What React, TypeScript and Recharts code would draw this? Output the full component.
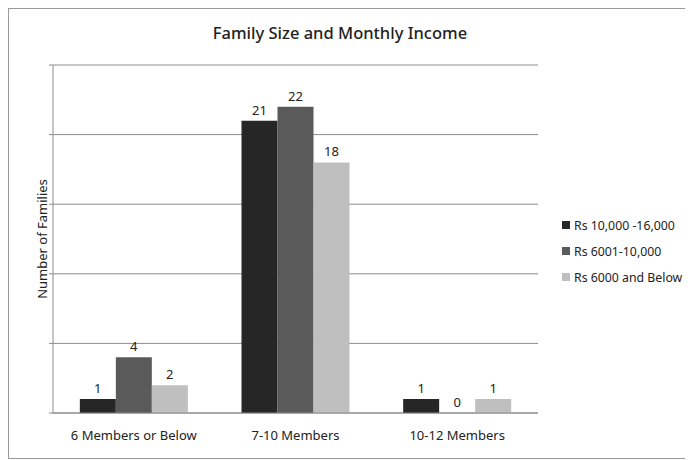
import { BarChart, Bar, XAxis, YAxis, CartesianGrid, Legend, LabelList } from 'recharts';

const categories = ['6 Members or Below', '7-10 Members', '10-12 Members'];
const high = [1, 21, 1];
const middle = [4, 22, 0];
const low = [2, 18, 1];
const yTicks = [0, 5, 10, 15, 20, 25];
const edgeTicks = [0, 1, 2, 3];

const SERIES = [
  { key: 'high', name: 'Rs 10,000 -16,000', color: '#262626' },
  { key: 'middle', name: 'Rs 6001-10,000', color: '#5a5a5a' },
  { key: 'low', name: 'Rs 6000 and Below', color: '#bfbfbf' },
];

const FONT = '"Noto Sans", "Open Sans", sans-serif';

const data = categories.map((c, i) => ({ category: c, high: high[i], middle: middle[i], low: low[i] }));

function YLabel({ viewBox }: { viewBox?: { x: number; y: number; width: number; height: number } }) {
  if (!viewBox) return null;
  const x = viewBox.x + 33;
  const y = viewBox.y + viewBox.height / 2;
  return (
    <text x={x} y={y} transform={`rotate(-90 ${x} ${y})`} textAnchor="middle" dominantBaseline="central"
      fontSize={13} fill="#222" fontFamily={FONT}>
      Number of Families
    </text>
  );
}

// legend drawn in series order (recharts sorts payload otherwise)
function LegendBox() {
  return (
    <div style={{ fontFamily: FONT, fontSize: 12.3, color: '#222', whiteSpace: 'nowrap' }}>
      {SERIES.map((s) => (
        <div key={s.key} style={{ display: 'flex', alignItems: 'center', height: 26 }}>
          <span style={{ width: 8, height: 8, background: s.color, marginRight: 4, display: 'inline-block' }} />
          <span>{s.name}</span>
        </div>
      ))}
    </div>
  );
}

export default function App() {
  return (
    <div style={{ position: 'relative', width: 684, height: 451, border: '1px solid #9a9a9a', boxSizing: 'border-box', background: '#fff' }}>
      <div style={{ position: 'absolute', top: 12, left: -10, width: 682, textAlign: 'center', fontFamily: FONT, fontSize: 16.5, fontWeight: 500, color: '#222' }}>
        Family Size and Monthly Income
      </div>
      <BarChart width={682} height={449} data={data} margin={{ top: 56, right: 153, bottom: 0, left: 0 }}
        barCategoryGap="16.6%" barGap={0}>
        <CartesianGrid vertical={false} stroke="#8c8c8c" />
        <XAxis xAxisId="edges" type="number" domain={[0, 3]} ticks={edgeTicks} height={0}
          axisLine={false} tickLine={{ stroke: '#8c8c8c' }} tickSize={5} tickFormatter={() => ''} />
        <XAxis dataKey="category" height={45} axisLine={{ stroke: '#8c8c8c' }} tickLine={false}
          tickMargin={12} tick={{ fontSize: 13, fill: '#222', fontFamily: FONT }} interval={0} />
        <YAxis width={44} domain={[0, 25]} ticks={yTicks} axisLine={{ stroke: '#8c8c8c' }}
          tickLine={{ stroke: '#8c8c8c' }} tickSize={4} tickFormatter={() => ''} label={<YLabel />} />
        <Legend layout="vertical" align="center" verticalAlign="middle" content={<LegendBox />}
          wrapperStyle={{ left: 553, top: 203, width: 128 }} />
        {SERIES.map((s) => (
          <Bar key={s.key} dataKey={s.key} name={s.name} fill={s.color} isAnimationActive={false}
            minPointSize={(v: number) => (v === 0 ? 0.01 : 0)}>
            <LabelList dataKey={s.key} position="top" offset={6} fill="#222" fontSize={13} fontFamily={FONT} />
          </Bar>
        ))}
      </BarChart>
    </div>
  );
}
